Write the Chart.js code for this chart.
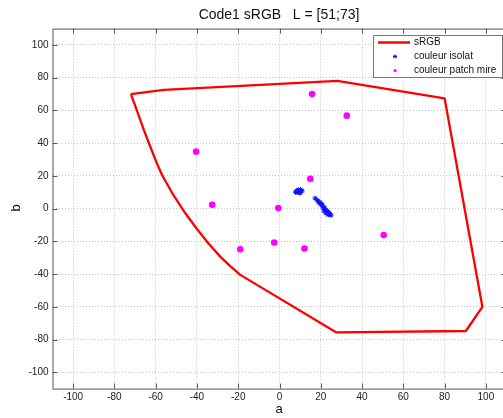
<!DOCTYPE html>
<html>
<head>
<meta charset="utf-8">
<script src="https://cdn.jsdelivr.net/npm/chart.js@4.4.0/dist/chart.umd.min.js"></script>
<style>
  html, body { margin: 0; padding: 0; overflow: hidden; background: #fff; }
  #wrap { width: 520px; height: 418px; }
</style>
</head>
<body>
<div id="wrap"><canvas id="c"></canvas></div>
<script>
// Data (a, b)
const titleText = 'Code1 sRGB   L = [51;73]';
const xTicks = [-100, -80, -60, -40, -20, 0, 20, 40, 60, 80, 100];
const yTicks = [-100, -80, -60, -40, -20, 0, 20, 40, 60, 80, 100];

// sRGB gamut outline
const gamutA = [-72, -68.6, -65.7, -62.5, -59.6, -56.8, -52, -46, -40, -34.5, -28.6, -24, -19, 27.6, 90.3, 98.3, 80, 28, -56, -72];
const gamutB = [70, 58.2, 48, 37.5, 28.2, 20.2, 9.5, -2.2, -12.5, -21.2, -29.5, -35, -40.5, -75.7, -74.8, -60, 67.4, 78, 72.5, 70];

// couleur isolat
const isoA = [8, 8.5, 9, 9.5, 10, 10.5, 9, 8.5, 10, 9.5, 11, 10.2, 8.8, 9.8, 7.8,
  17.2, 18, 18.6, 19, 19.5, 20, 20.5, 20.8, 21.2, 21.5, 21.8, 22.2, 22, 22.6, 23,
  23.4, 23.8, 24.2, 24.6, 23, 22.5, 24, 21.5, 25, 23.6];
const isoB = [10.5, 11, 11.5, 11, 10.5, 11, 10, 9.8, 9.5, 10.2, 10.8, 11.6, 10.6, 9.8, 10,
  6.4, 5.5, 4.8, 3.6, 4, 2.5, 3, 1.5, 0.5, 1.2, -0.5, -1, 0, -1.8, -2.5,
  -2, -3, -3.5, -3.8, -1.2, -2.8, -2.4, -1.5, -4, -3.8];

// couleur patch mire
const mireA = [15.8, 32.6, -40.4, 14.9, -32.6, -0.6, 50.5, -2.6, -19, 12.1];
const mireB = [70, 56.8, 34.8, 18.2, 2.3, 0.3, -16.2, -20.7, -24.8, -24.4];

const toXY = (a, b) => a.map((v, i) => ({ x: v, y: b[i] }));

const frame = {
  id: 'frame',
  afterDraw(chart) {
    const ctx = chart.ctx, ca = chart.chartArea;
    const xs = chart.scales.x, ys = chart.scales.y;
    ctx.save();
    // box
    ctx.strokeStyle = '#555';
    ctx.lineWidth = 1;
    ctx.strokeRect(ca.left + 0.5, ca.top + 0.5, ca.right - ca.left, ca.bottom - ca.top);
    // inward ticks
    ctx.beginPath();
    xTicks.forEach(v => {
      const px = Math.round(xs.getPixelForValue(v)) + 0.5;
      ctx.moveTo(px, ca.bottom); ctx.lineTo(px, ca.bottom - 5);
      ctx.moveTo(px, ca.top); ctx.lineTo(px, ca.top + 5);
    });
    yTicks.forEach(v => {
      const py = Math.round(ys.getPixelForValue(v)) + 0.5;
      ctx.moveTo(ca.left, py); ctx.lineTo(ca.left + 5, py);
      ctx.moveTo(ca.right, py); ctx.lineTo(ca.right - 5, py);
    });
    ctx.stroke();

    // title and axis titles
    ctx.fillStyle = '#111';
    ctx.textAlign = 'center';
    ctx.textBaseline = 'middle';
    ctx.font = '14px "Liberation Sans", Arial, sans-serif';
    ctx.fillText(titleText, 279, 15);
    ctx.font = '13px "Liberation Sans", Arial, sans-serif';
    ctx.fillText('a', 279, 409);
    ctx.save();
    ctx.translate(16, 208);
    ctx.rotate(-Math.PI / 2);
    ctx.fillText('b', 0, 0);
    ctx.restore();

    // legend
    const lx = 373, ly = 35, lw = 130, lh = 42;
    ctx.fillStyle = '#fff';
    ctx.fillRect(lx, ly, lw, lh);
    ctx.strokeStyle = '#777';
    ctx.strokeRect(lx + 0.5, ly + 0.5, lw - 1, lh);
    const ds = chart.data.datasets;
    ctx.font = '10px "Liberation Sans", Arial, sans-serif';
    ctx.textAlign = 'left';
    ctx.fillStyle = '#111';
    const rows = [42.5, 56.5, 70.5];
    // sRGB line
    ctx.strokeStyle = ds[0].borderColor;
    ctx.lineWidth = 2.5;
    ctx.beginPath(); ctx.moveTo(378, rows[0]); ctx.lineTo(410, rows[0]); ctx.stroke();
    ctx.fillText(ds[0].label, 414, rows[0]);
    // isolat marker (small asterisk)
    ctx.strokeStyle = ds[1].borderColor;
    ctx.lineWidth = 1;
    ctx.beginPath();
    ctx.moveTo(393, rows[1]); ctx.lineTo(397, rows[1]);
    ctx.moveTo(395, rows[1] - 2); ctx.lineTo(395, rows[1] + 2);
    ctx.moveTo(393.5, rows[1] - 1.5); ctx.lineTo(396.5, rows[1] + 1.5);
    ctx.moveTo(396.5, rows[1] - 1.5); ctx.lineTo(393.5, rows[1] + 1.5);
    ctx.stroke();
    ctx.fillText(ds[1].label, 414, rows[1]);
    // mire marker
    ctx.fillStyle = ds[2].backgroundColor;
    ctx.beginPath(); ctx.arc(395, rows[2], 1.6, 0, Math.PI * 2); ctx.fill();
    ctx.fillStyle = '#111';
    ctx.fillText(ds[2].label, 414, rows[2]);
    ctx.restore();
  }
};

new Chart(document.getElementById('c'), {
  type: 'scatter',
  data: {
    datasets: [
      {
        label: 'sRGB',
        data: toXY(gamutA, gamutB),
        showLine: true,
        borderColor: '#ff0000',
        backgroundColor: '#ff0000',
        borderWidth: 2.3,
        borderJoinStyle: 'round',
        pointRadius: 0,
        tension: 0
      },
      {
        label: 'couleur isolat',
        data: toXY(isoA, isoB),
        borderColor: '#1010ff',
        backgroundColor: '#1010ff',
        pointStyle: 'star',
        pointRadius: 2.5,
        borderWidth: 1
      },
      {
        label: 'couleur patch mire',
        data: toXY(mireA, mireB),
        borderColor: '#ff00ff',
        backgroundColor: '#ff00ff',
        pointRadius: 3.3,
        borderWidth: 0
      }
    ]
  },
  options: {
    responsive: true,
    maintainAspectRatio: false,
    animation: false,
    layout: { padding: { top: 28.6, right: 13.5, left: 0, bottom: 0 } },
    plugins: { legend: { display: false }, title: { display: false }, tooltip: { enabled: false } },
    scales: {
      x: {
        type: 'linear',
        min: -110, max: 110,
        afterFit: s => { s.height = 29.4; },
        afterBuildTicks: s => { s.ticks = xTicks.map(v => ({ value: v })); },
        grid: { color: '#c4c4c4', lineWidth: 1, drawTicks: false },
        border: { display: false, dash: [1, 2] },
        ticks: { padding: 3, color: '#222', font: { size: 10, family: '"Liberation Sans", Arial, sans-serif' }, maxRotation: 0 }
      },
      y: {
        type: 'linear',
        min: -110, max: 110,
        afterFit: s => { s.width = 52.5; },
        afterBuildTicks: s => { s.ticks = yTicks.map(v => ({ value: v })); },
        grid: { color: '#c4c4c4', lineWidth: 1, drawTicks: false },
        border: { display: false, dash: [1, 2] },
        ticks: { padding: 4, color: '#222', font: { size: 10, family: '"Liberation Sans", Arial, sans-serif' } }
      }
    }
  },
  plugins: [frame]
});
</script>
</body>
</html>
